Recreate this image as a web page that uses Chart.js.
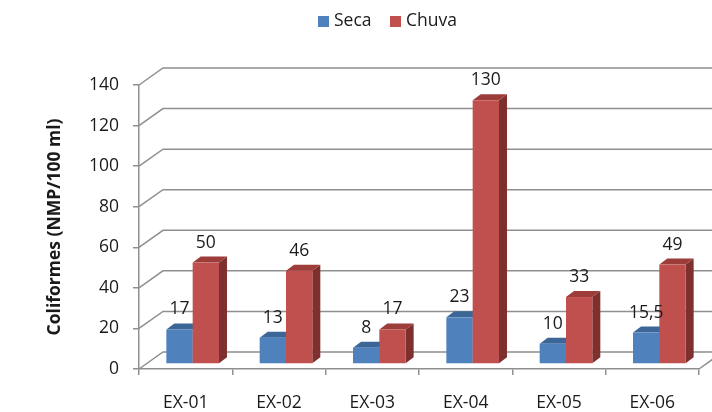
<!DOCTYPE html>
<html>
<head>
<meta charset="utf-8">
<script src="https://cdn.jsdelivr.net/npm/chart.js@4"></script>
<style>
    html, body { margin: 0; padding: 0; background: #fff; }
    #wrap { width: 712px; height: 412px; }
</style>
</head>
<body>
<div id="wrap"><canvas id="coliformes-chart" width="712" height="412"></canvas></div>
<script>
// --- Data ---
const categories = ['EX-01', 'EX-02', 'EX-03', 'EX-04', 'EX-05', 'EX-06'];
const secaValues = [17, 13, 8, 23, 10, 15.5];
const chuvaValues = [50, 46, 17, 130, 33, 49];
const seriesNames = ['Seca', 'Chuva'];
const yMin = 0, yMax = 140, yStep = 20;

// --- Look ---
const FONT = 'Open Sans';
const TEXT = '#1a1a1a';
const GRID = '#8f8f8f';
const faces = [
    { front: '#4f81bd', top: '#3c6698', side: '#35587f' },
    { front: '#c0504d', top: '#9c3d3a', side: '#7e302e' }
];
const wall = { dx: 24, dy: -17 };     // depth of the floor / back wall
const barShift = { dx: 7, dy: -5 };   // bars stand a little behind the front edge
const barDepth = { dx: 8, dy: -6 };   // thickness of each column

// Fake 3D: back wall grid, boxes and value labels
const bars3d = {
    id: 'bars3d',
    beforeDatasetsDraw(chart) {
        const { ctx, chartArea: a, scales: { x, y } } = chart;
        ctx.save();

        // back wall + left wall grid lines
        ctx.strokeStyle = GRID;
        ctx.lineWidth = 1.5;
        y.ticks.forEach(t => {
            const py = y.getPixelForValue(t.value);
            ctx.beginPath();
            ctx.moveTo(a.left, py);
            ctx.lineTo(a.left + wall.dx, py + wall.dy);
            ctx.lineTo(a.right + wall.dx, py + wall.dy);
            ctx.stroke();
        });
        // right edge of the floor
        ctx.beginPath();
        ctx.moveTo(a.right, a.bottom);
        ctx.lineTo(a.right + wall.dx, a.bottom + wall.dy);
        ctx.stroke();

        const labels = [];
        categories.forEach((c, i) => {
            chart.data.datasets.forEach((ds, d) => {
                const el = chart.getDatasetMeta(d).data[i];
                const p = el.getProps(['x', 'y', 'base', 'width'], true);
                const l = p.x - p.width / 2 + barShift.dx;
                const r = l + p.width;
                const t = p.y + barShift.dy;
                const b = p.base + barShift.dy;
                const col = faces[d];

                ctx.fillStyle = col.side;
                ctx.beginPath();
                ctx.moveTo(r, t);
                ctx.lineTo(r + barDepth.dx, t + barDepth.dy);
                ctx.lineTo(r + barDepth.dx, b + barDepth.dy);
                ctx.lineTo(r, b);
                ctx.closePath();
                ctx.fill();

                ctx.fillStyle = col.top;
                ctx.beginPath();
                ctx.moveTo(l, t);
                ctx.lineTo(l + barDepth.dx, t + barDepth.dy);
                ctx.lineTo(r + barDepth.dx, t + barDepth.dy);
                ctx.lineTo(r, t);
                ctx.closePath();
                ctx.fill();

                ctx.fillStyle = col.front;
                ctx.fillRect(l, t, p.width, b - t);

                labels.push({ x: (l + r) / 2, y: t - 20, v: ds.data[i] });
            });
        });

        // value labels, decimal comma
        ctx.fillStyle = TEXT;
        ctx.font = `17.5px "${FONT}"`;
        ctx.textAlign = 'center';
        ctx.textBaseline = 'middle';
        labels.forEach(lb => {
            ctx.fillText(String(lb.v).replace('.', ','), lb.x, lb.y);
        });

        ctx.restore();
        return false;
    },
    afterDraw(chart) {
        // legend
        const { ctx } = chart;
        const items = [{ x: 318, text: seriesNames[0] }, { x: 390, text: seriesNames[1] }];
        ctx.save();
        ctx.font = `17.5px "${FONT}"`;
        ctx.textBaseline = 'middle';
        ctx.textAlign = 'left';
        items.forEach((it, i) => {
            ctx.fillStyle = faces[i].front;
            ctx.fillRect(it.x, 16, 11, 11);
            ctx.fillStyle = TEXT;
            ctx.fillText(it.text, it.x + 16, 21.5);
        });
        ctx.restore();
    }
};

new Chart(document.getElementById('coliformes-chart'), {
    type: 'bar',
    data: {
        labels: categories,
        datasets: [
            { label: seriesNames[0], data: secaValues, backgroundColor: faces[0].front },
            { label: seriesNames[1], data: chuvaValues, backgroundColor: faces[1].front }
        ]
    },
    options: {
        responsive: false,
        animation: false,
        devicePixelRatio: 1,
        categoryPercentage: 0.564,
        barPercentage: 1,
        layout: { padding: { top: 85, right: 13, left: 0, bottom: 0 } },
        plugins: {
            legend: { display: false },
            tooltip: { enabled: false }
        },
        scales: {
            x: {
                grid: { drawOnChartArea: false, drawTicks: true, tickLength: 6, color: GRID, lineWidth: 1.5 },
                border: { display: true, color: GRID, width: 1.5 },
                ticks: { font: { family: FONT, size: 17.5 }, color: TEXT, padding: 18 },
                afterFit: s => { s.height = 43; }
            },
            y: {
                min: yMin,
                max: yMax,
                grid: { drawOnChartArea: false, drawTicks: true, tickLength: 6, color: GRID, lineWidth: 1.5 },
                border: { display: true, color: GRID, width: 1.5 },
                ticks: { stepSize: yStep, font: { family: FONT, size: 17.5 }, color: TEXT, padding: 14 },
                title: {
                    display: true,
                    text: 'Coliformes (NMP/100 ml)',
                    font: { family: FONT, size: 17.5, weight: 'bold' },
                    color: TEXT,
                    padding: { top: 45, bottom: 0 }
                },
                afterFit: s => { s.width = 139; }
            }
        }
    },
    plugins: [bars3d]
});
</script>
</body>
</html>
